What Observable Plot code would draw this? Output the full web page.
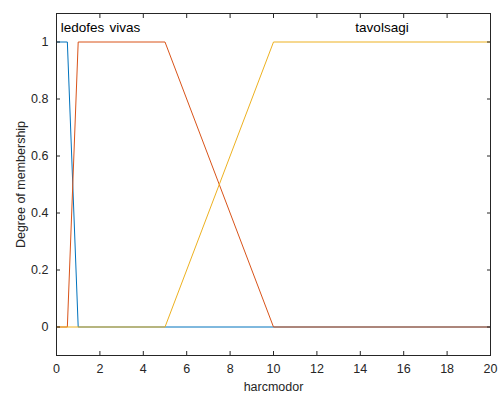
<!DOCTYPE html>
<html>
<head>
<meta charset="utf-8">
<script src="https://cdn.jsdelivr.net/npm/d3@7"></script>
<script src="https://cdn.jsdelivr.net/npm/@observablehq/plot@0.6"></script>
<style>
  html, body { margin: 0; padding: 0; background: #fff; }
  #chart { width: 500px; height: 394px; }
</style>
</head>
<body>
<div id="chart"></div>
<script>
// Membership functions (x, degree)
const names = ["ledofes", "vivas", "tavolsagi"];
const colors = ["#0072BD", "#D95319", "#EDB120"];
const ledofesX = [0, 0.5, 1, 20];
const ledofesY = [1, 1, 0, 0];
const vivasX = [0, 0.5, 1, 5, 10, 20];
const vivasY = [0, 0, 1, 1, 0, 0];
const tavolsagiX = [0, 5, 10, 20];
const tavolsagiY = [0, 0, 1, 1];
// label anchors
const labelX = [1.2, 3.15, 15];
const labelY = [1.05, 1.05, 1.05];
// ticks
const xTicks = [0, 2, 4, 6, 8, 10, 12, 14, 16, 18, 20];
const yTicks = [0, 0.2, 0.4, 0.6, 0.8, 1];

const series = [
  [ledofesX, ledofesY],
  [vivasX, vivasY],
  [tavolsagiX, tavolsagiY]
];
const rows = [];
series.forEach(([xs, ys], i) => xs.forEach((x, j) => rows.push({name: names[i], x, y: ys[j]})));
const labels = names.map((n, i) => ({name: n, x: labelX[i], y: labelY[i]}));

const ink = "#262626";
const fmt = d3.format("~g");
const chart = Plot.plot({
  width: 500,
  height: 394,
  marginLeft: 56,
  marginRight: 10,
  marginTop: 13,
  marginBottom: 39,
  style: {fontFamily: "Arial, 'Liberation Sans', sans-serif", fontSize: "12.5px", color: ink, background: "#fff"},
  x: {domain: [0, 20]},
  y: {domain: [-0.1, 1.1]},
  color: {domain: names, range: colors},
  marks: [
    Plot.line(rows, {x: "x", y: "y", z: "name", stroke: "name", strokeWidth: 1}),
    Plot.text(labels, {x: "x", y: "y", text: "name", fill: "#000", fontSize: 13.5}),
    Plot.frame({stroke: ink}),
    Plot.axisX({ticks: xTicks, tickSize: -4, tickPadding: 13, tickFormat: fmt, stroke: ink, fill: ink, label: "harcmodor", labelAnchor: "center", labelArrow: "none", labelOffset: 35}),
    Plot.axisX({anchor: "top", ticks: xTicks, tickSize: -4, tickFormat: () => "", label: null, stroke: ink}),
    Plot.axisY({ticks: yTicks, tickSize: -4, tickPadding: 12, tickFormat: fmt, stroke: ink, fill: ink, label: "Degree of membership", labelAnchor: "center", labelArrow: "none", labelOffset: 40}),
    Plot.axisY({anchor: "right", ticks: yTicks, tickSize: -4, tickFormat: () => "", label: null, stroke: ink})
  ]
});
document.getElementById("chart").appendChild(chart);
</script>
</body>
</html>
